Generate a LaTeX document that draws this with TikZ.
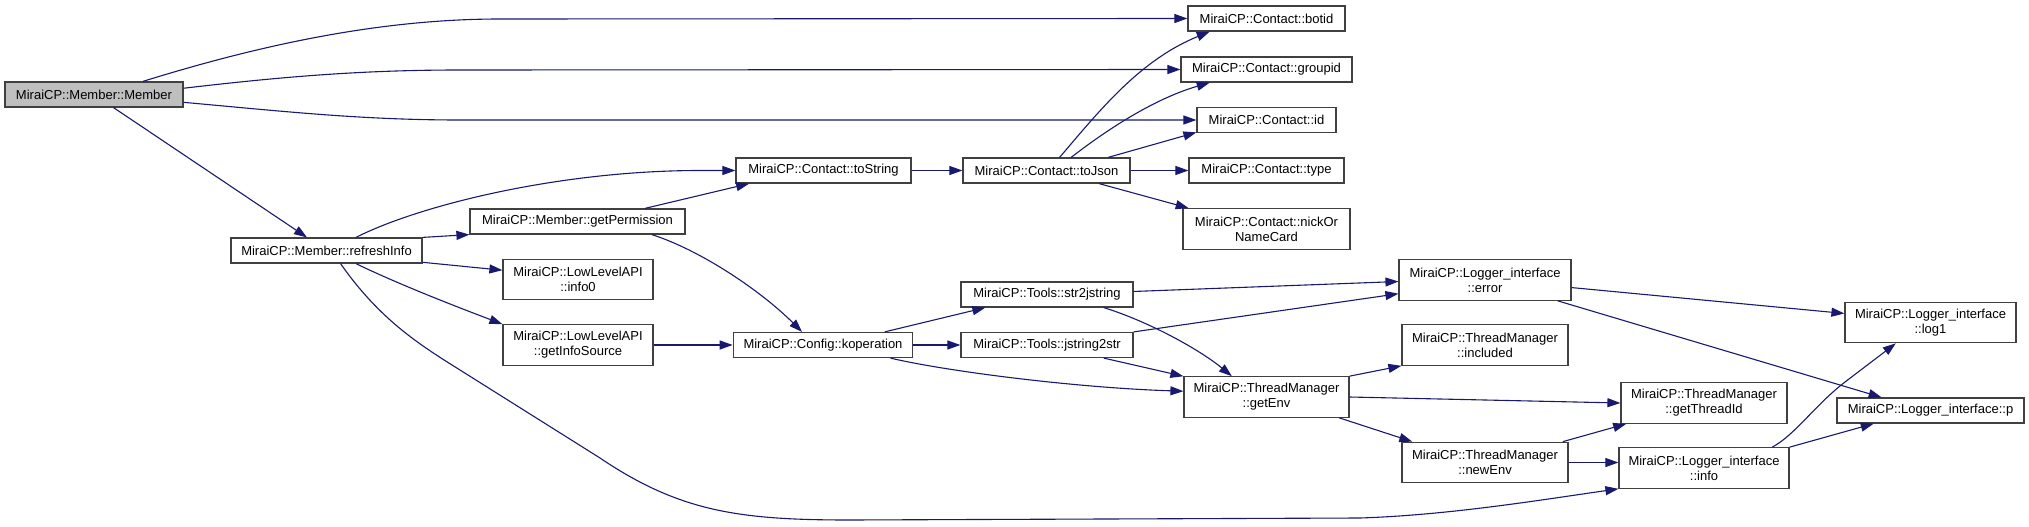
\documentclass[tikz,border=0pt]{standalone}
\usepackage{fontspec}
\setmainfont{Liberation Sans}
\usetikzlibrary{arrows.meta}
\definecolor{edgeblue}{HTML}{191970}
\definecolor{boxgray}{HTML}{404040}
\definecolor{curfill}{HTML}{BFBFBF}

\begin{document}
\begin{tikzpicture}[x=1pt, y=-1pt,
    every node/.style={font=\fontsize{13}{15}\selectfont},
    fn/.style={draw=boxgray, line width=1.2pt, fill=white, inner sep=0pt,
               minimum height=25pt, align=center},
    fn2/.style={fn, minimum height=40.5pt},
    cur/.style={fn, fill=curfill},
    call/.style={-{Triangle[length=13pt,width=9pt]}, line width=1.1pt, edgeblue}
  ]
  \fill[white] (0,0) rectangle (2029,527);
  \useasboundingbox (0,0) rectangle (2029,527);
  \node[cur, minimum width=178pt] (member) at (94,94.5) {MiraiCP::Member::Member};
  \node[fn, minimum width=157pt] (botid) at (1266.5,18.5) {MiraiCP::Contact::botid};
  \node[fn, minimum width=171pt] (groupid) at (1266.5,69.5) {MiraiCP::Contact::groupid};
  \node[fn, minimum width=139pt] (cid) at (1266.5,120) {MiraiCP::Contact::id};
  \node[fn, minimum width=155pt] (ctype) at (1266.5,170.5) {MiraiCP::Contact::type};
  \node[fn2, minimum width=167pt] (nick) at (1266.5,229) {MiraiCP::Contact::nickOr\\NameCard};
  \node[fn, minimum width=175pt] (tostring) at (823.5,170.5) {MiraiCP::Contact::toString};
  \node[fn, minimum width=167pt] (tojson) at (1046.5,170.5) {MiraiCP::Contact::toJson};
  \node[fn, minimum width=191pt] (refresh) at (326.5,250.5) {MiraiCP::Member::refreshInfo};
  \node[fn, minimum width=215pt] (getperm) at (577.5,221.5) {MiraiCP::Member::getPermission};
  \node[fn2, minimum width=150pt] (info0) at (578,279.5) {MiraiCP::LowLevelAPI\\::info0};
  \node[fn2, minimum width=150pt] (getinfo) at (578,345) {MiraiCP::LowLevelAPI\\::getInfoSource};
  \node[fn, minimum width=179.5pt] (koper) at (823,345) {MiraiCP::Config::koperation};
  \node[fn, minimum width=172pt] (str2j) at (1047,294.5) {MiraiCP::Tools::str2jstring};
  \node[fn, minimum width=172pt] (jstr2s) at (1047,345) {MiraiCP::Tools::jstring2str};
  \node[fn2, minimum width=172pt] (lerror) at (1485,280) {MiraiCP::Logger\_interface\\::error};
  \node[fn2, minimum width=166pt] (included) at (1485,345) {MiraiCP::ThreadManager\\::included};
  \node[fn2, minimum width=165pt] (getenv) at (1266.5,397) {MiraiCP::ThreadManager\\::getEnv};
  \node[fn2, minimum width=166pt] (threadid) at (1704,403) {MiraiCP::ThreadManager\\::getThreadId};
  \node[fn2, minimum width=166pt] (newenv) at (1485,462.5) {MiraiCP::ThreadManager\\::newEnv};
  \node[fn2, minimum width=170pt] (linfo) at (1704,468) {MiraiCP::Logger\_interface\\::info};
  \node[fn2, minimum width=171pt] (log1) at (1930.5,322.5) {MiraiCP::Logger\_interface\\::log1};
  \node[fn, minimum width=187pt] (lp) at (1930.5,410.5) {MiraiCP::Logger\_interface::p};

  \draw[call] (member.15) .. controls (260,45) and (380,19) .. (500,19) -- (botid.west);
  \draw[call] (member.4.5) .. controls (280,77) and (360,70) .. (460,70) -- (groupid.west);
  \draw[call] (member.-5) .. controls (280,111) and (360,120) .. (460,120) -- (cid.west);
  \draw[call] (member) -- (refresh);
  \draw[call] (refresh.24) .. controls (420,205) and (560,170.5) .. (700,170.5) -- (tostring.west);
  \draw[call] (refresh.north east) -- (getperm.south west);
  \draw[call] (refresh.-7) -- (info0.173);
  \draw[call] (refresh.-24) .. controls (400,285) and (460,308) .. (getinfo.north west);
  \draw[call] (refresh.-43) .. controls (380,320) and (420,345) .. (460,370) -- (600,458)
    .. controls (680,512) and (740,520) .. (850,520) -- (1360,518)
    .. controls (1450,515) and (1540,500) .. (linfo.south west);
  \draw[call] (getperm.11) -- (tostring.190);
  \draw[call] (getperm.-10) .. controls (700,250) and (760,290) .. (koper.148);
  \draw[call] (getinfo) -- (koper);
  \draw[call] (tostring) -- (tojson);
  \draw[call] (tojson.45) .. controls (1100,110) and (1140,60) .. (botid.193);
  \draw[call] (tojson.28) .. controls (1100,135) and (1150,100) .. (groupid.193);
  \draw[call] (tojson.12) -- (cid.190);
  \draw[call] (tojson) -- (ctype);
  \draw[call] (tojson.-14) -- (nick.165);
  \draw[call] (koper.12) -- (str2j.192);
  \draw[call] (koper) -- (jstr2s);
  \draw[call] (koper.-11) .. controls (950,372) and (1080,388) .. (getenv.176);
  \draw[call] (str2j.2) -- (lerror.181);
  \draw[call] (jstr2s.north east) -- (lerror.189);
  \draw[call] (str2j.-13) .. controls (1150,322) and (1200,350) .. (getenv.149);
  \draw[call] (jstr2s.-13) -- (getenv.166);
  \draw[call] (getenv.north east) -- (included.south west);
  \draw[call] (getenv.east) -- (threadid.west);
  \draw[call] (getenv.-16.5) -- (newenv.164);
  \draw[call] (newenv.15) -- (threadid.195);
  \draw[call] (newenv.east) -- (newenv.east -| linfo.west);
  \draw[call] (linfo.17) .. controls (1795,435) and (1815,405) .. (1845,382) -- (log1.211);
  \draw[call] (linfo.north east) -- (lp.193);
  \draw[call] (lerror.-5) -- (log1.174);
  \draw[call] (lerror.-16) -- (lp.165);
\end{tikzpicture}
\end{document}
